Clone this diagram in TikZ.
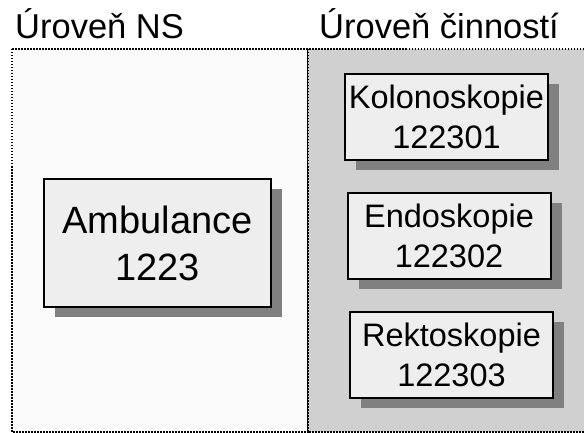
\documentclass[tikz,border=0pt]{standalone}
\usepackage{fontspec}
\setmainfont{Liberation Sans}
\usetikzlibrary{shadows}
\definecolor{panelL}{HTML}{FBFBFB}
\definecolor{panelR}{HTML}{D0D0D0}
\definecolor{boxfill}{HTML}{EEEEEE}
\definecolor{shadowgray}{HTML}{808080}
\tikzset{
  panel/.style={draw=black, line width=1.5pt, dash pattern=on 1.5pt off 1.5pt},
  title/.style={anchor=base west, inner sep=0pt, font=\fontsize{34.5}{41}\selectfont},
  unitbox/.style={draw=black, line width=2pt, fill=boxfill, align=center, inner sep=0pt,
    general shadow={shadow xshift=11pt, shadow yshift=-10pt, fill=shadowgray}},
  bigbox/.style={unitbox, minimum width=227pt, minimum height=128pt,
    font=\fontsize{38}{47}\selectfont},
  smallbox/.style={unitbox, minimum width=203pt, minimum height=86pt,
    font=\fontsize{32.5}{40}\selectfont}
}
\begin{document}
\begin{tikzpicture}[x=1pt, y=-1pt]
  \clip (0,0) rectangle (584,433);
  % level panels
  \path[fill=white] (0,0) rectangle (584,433);
  \filldraw[panel, fill=panelL] (12,49) rectangle (308,432);
  \filldraw[panel, fill=panelR] (308,49) rectangle (600,432);
  % headings
  \node[title] (hNS) at (15,39) {Úroveň NS};
  \node[title] (hAct) at (319,39) {Úroveň činností};
  % units
  \node[bigbox] (amb) at (157.5,243) {Ambulance\\1223};
  \node[smallbox] (kol) at (446.5,117) {Kolonoskopie\\122301};
  \node[smallbox] (endo) at (449,236) {Endoskopie\\122302};
  \node[smallbox] (rekt) at (451.5,355) {Rektoskopie\\122303};
\end{tikzpicture}
\end{document}
